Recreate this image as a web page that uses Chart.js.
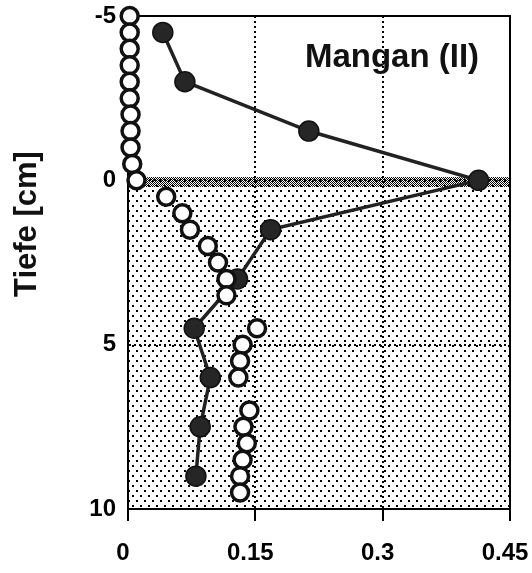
<!DOCTYPE html>
<html>
<head>
<meta charset="utf-8">
<script src="https://cdn.jsdelivr.net/npm/chart.js@4/dist/chart.umd.min.js"></script>
<style>
    body { margin: 0; background: #fff; }
    #wrap { width: 532px; height: 573px; }
</style>
</head>
<body>
<div id="wrap"><canvas id="myChart" width="532" height="573"></canvas></div>
<script>
// Mangan (II) - gefuellte Kreise (mit Linie)
var depthFilled = [-4.5, -3, -1.5, 0, 1.5, 3, 4.5, 6, 7.5, 9];
var valueFilled = [0.041, 0.067, 0.213, 0.413, 0.168, 0.129, 0.078, 0.097, 0.085, 0.080];

// offene Kreise
var depthOpen = [-5, -4.5, -4, -3.5, -3, -2.5, -2, -1.5, -1, -0.5, 0,
    0.5, 1, 1.5, 2, 2.5, 3, 3.5,
    4.5, 5, 5.5, 6,
    7, 7.5, 8, 8.5, 9, 9.5];
var valueOpen = [0.002, 0.002, 0.002, 0.002, 0.002, 0.002, 0.003, 0.003, 0.003, 0.005, 0.010,
    0.045, 0.064, 0.073, 0.094, 0.106, 0.116, 0.116,
    0.152, 0.135, 0.132, 0.130,
    0.143, 0.136, 0.140, 0.135, 0.132, 0.132];

var xTicks = [0, 0.15, 0.3, 0.45];
var xTickLabels = ['0', '0.15', '0.3', '0.45'];
var yTicks = [-5, 0, 5, 10];
var yTickLabels = ['-5', '0', '5', '10'];

// Sediment (unterhalb 0) und Grenzschicht
var sedimentTop = 0;
var sedimentBottom = 10;
var bandTop = -0.1;
var bandBottom = 0.2;

var FONT = '"Liberation Sans", Arial, Helvetica, sans-serif';

function toPoints(xs, ys) {
    return xs.map(function (v, i) { return {x: v, y: ys[i]}; });
}

function makePattern(ctx, w, h, dots) {
    var c = document.createElement('canvas');
    c.width = w; c.height = h;
    var p = c.getContext('2d');
    p.fillStyle = '#000';
    dots.forEach(function (d) { p.fillRect(d[0], d[1], d[2], d[2]); });
    return ctx.createPattern(c, 'repeat');
}

var sedimentPlugin = {
    id: 'sediment',
    beforeDraw: function (chart) {
        var ctx = chart.ctx, a = chart.chartArea, y = chart.scales.y;
        ctx.save();
        ctx.fillStyle = '#fff';
        ctx.fillRect(0, 0, chart.width, chart.height);
        var t = y.getPixelForValue(sedimentTop), b = y.getPixelForValue(sedimentBottom);
        ctx.fillStyle = makePattern(ctx, 8, 10, [[0, 0, 2], [4, 5, 2]]);
        ctx.fillRect(a.left, t, a.right - a.left, b - t);
        var b1 = y.getPixelForValue(bandTop), b2 = y.getPixelForValue(bandBottom);
        ctx.fillStyle = makePattern(ctx, 2, 2, [[0, 0, 1], [1, 1, 1]]);
        ctx.fillRect(a.left, b1, a.right - a.left, b2 - b1);
        ctx.restore();
    },
    beforeDatasetsDraw: function (chart) {
        var ctx = chart.ctx, a = chart.chartArea;
        ctx.save();
        ctx.strokeStyle = '#000';
        ctx.lineWidth = 2;
        ctx.strokeRect(a.left, a.top, a.right - a.left, a.bottom - a.top);
        ctx.restore();
    },
    afterDraw: function (chart) {
        var ctx = chart.ctx, a = chart.chartArea;
        ctx.save();
        ctx.fillStyle = '#111';
        ctx.textAlign = 'center';
        ctx.textBaseline = 'middle';
        ctx.font = 'bold 33px ' + FONT;
        ctx.fillText('Mangan (II)', a.right - 118, a.top + 42);
        ctx.translate(27, 224);
        ctx.rotate(-Math.PI / 2);
        ctx.font = 'bold 31px ' + FONT;
        ctx.fillText('Tiefe [cm]', 0, 0);
        ctx.restore();
    }
};

document.addEventListener('DOMContentLoaded', function () {
    var ctx = document.getElementById('myChart').getContext('2d');
    var chart = new Chart(ctx, {
        type: 'scatter',
        data: {
            datasets: [{
                label: 'offen',
                data: toPoints(valueOpen, depthOpen),
                showLine: false,
                pointRadius: 8.5,
                pointHoverRadius: 8.5,
                pointBackgroundColor: '#fff',
                pointBorderColor: '#111',
                pointBorderWidth: 3.5,
                clip: false
            }, {
                label: 'gefuellt',
                data: toPoints(valueFilled, depthFilled),
                showLine: true,
                borderColor: '#222',
                borderWidth: 3.5,
                pointRadius: 10,
                pointHoverRadius: 10,
                pointBackgroundColor: '#262626',
                pointBorderColor: '#111',
                pointBorderWidth: 1.5,
                clip: false
            }]
        },
        options: {
            responsive: false,
            animation: false,
            events: [],
            layout: {padding: {left: 0, top: 16, right: 22, bottom: 0}},
            plugins: {legend: {display: false}, tooltip: {enabled: false}},
            scales: {
                x: {
                    type: 'linear',
                    min: 0,
                    max: 0.45,
                    afterBuildTicks: function (s) { s.ticks = xTicks.map(function (v) { return {value: v}; }); },
                    afterFit: function (s) { s.height = 64; s.paddingLeft = 0; s.paddingRight = 0; },
                    ticks: {
                        color: '#000',
                        padding: 18,
                        labelOffset: -5,
                        maxRotation: 0,
                        font: {family: FONT, size: 24, weight: 'bold'},
                        callback: function (v, i) { return xTickLabels[i]; }
                    },
                    grid: {color: '#000', lineWidth: 2, tickLength: 12, tickWidth: 2, tickColor: '#000', tickBorderDash: []},
                    border: {display: true, color: '#000', width: 2, dash: [2, 3]}
                },
                y: {
                    type: 'linear',
                    reverse: true,
                    min: -5,
                    max: 10,
                    afterBuildTicks: function (s) { s.ticks = yTicks.map(function (v) { return {value: v}; }); },
                    afterFit: function (s) { s.width = 128; s.paddingTop = 0; s.paddingBottom = 0; },
                    ticks: {
                        color: '#000',
                        padding: 12,
                        font: {family: FONT, size: 24, weight: 'bold'},
                        callback: function (v, i) { return yTickLabels[i]; }
                    },
                    grid: {color: '#000', lineWidth: 2, drawTicks: false},
                    border: {display: true, color: '#000', width: 2, dash: [2, 3]}
                }
            }
        },
        plugins: [sedimentPlugin]
    });
});
</script>
</body>
</html>
